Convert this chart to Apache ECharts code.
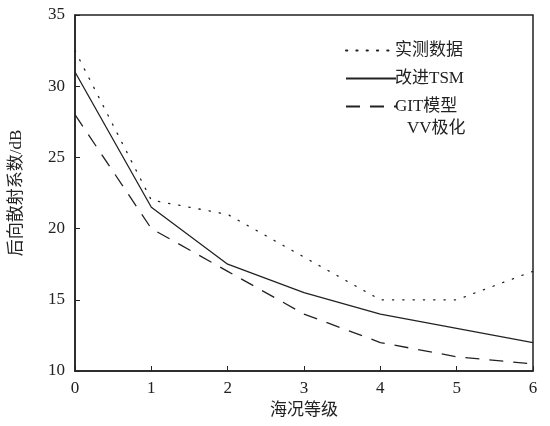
<!DOCTYPE html>
<html><head><meta charset="utf-8">
<script src="https://cdn.jsdelivr.net/npm/echarts@6/dist/echarts.min.js"></script>
<style>html,body{margin:0;padding:0;background:#fff}#c{width:550px;height:426px}</style>
</head><body><div id="c"></div>
<script>
const seaStates = [0, 1, 2, 3, 4, 5, 6];
const measured = [32.5, 22, 21, 18, 15, 15, 17];
const improvedTSM = [31, 21.5, 17.5, 15.5, 14, 13, 12];
const gitModel = [28, 20, 17, 14, 12, 11, 10.5];
const seriesNames = ['实测数据', '改进TSM', 'GIT模型'];
const noteText = 'VV极化';
const xTitle = '海况等级';
const yTitle = '后向散射系数/dB';

const FONT = '"Liberation Serif", "DejaVu Serif", "Noto Sans CJK SC", serif';
const pair = (arr) => seaStates.map((x, i) => [x, arr[i]]);

const chart = echarts.init(document.getElementById('c'));
chart.setOption({
  animation: false,
  backgroundColor: '#fff',
  textStyle: { fontFamily: FONT, color: '#222' },
  grid: { left: 75, right: 17, top: 15, bottom: 55, show: true, borderColor: '#222', borderWidth: 1.5, backgroundColor: 'transparent' },
  legend: {
    orient: 'vertical',
    left: 340, top: 37,
    itemWidth: 50, itemHeight: 16, itemGap: 11,
    itemStyle: { opacity: 0, borderWidth: 0 },
    textStyle: { fontFamily: FONT, fontSize: 17, color: '#222', padding: [0, 0, 0, -6] },
    data: seriesNames.map(n => ({ name: n })),
  },
  graphic: [{
    type: 'text', left: 407, top: 120,
    style: { text: noteText, font: '17px ' + FONT, fill: '#222' }
  }],
  xAxis: {
    type: 'value', min: 0, max: 6, interval: 1,
    name: xTitle, nameLocation: 'middle', nameGap: 31,
    nameTextStyle: { fontSize: 17, color: '#222', fontFamily: FONT },
    axisLine: { onZero: false, lineStyle: { color: '#222', width: 1.5 } },
    axisTick: { inside: true, length: 5, lineStyle: { color: '#222' } },
    axisLabel: { fontSize: 17, color: '#222', margin: 9, fontFamily: FONT },
    splitLine: { show: false }
  },
  yAxis: {
    type: 'value', min: 10, max: 35, interval: 5,
    name: yTitle, nameLocation: 'middle', nameGap: 50, nameRotate: 90,
    nameTextStyle: { fontSize: 17, color: '#222', fontFamily: FONT },
    axisLine: { show: true, onZero: false, lineStyle: { color: '#222', width: 1.5 } },
    axisTick: { show: true, inside: true, length: 5, lineStyle: { color: '#222' } },
    axisLabel: { fontSize: 17, color: '#222', margin: 10, fontFamily: FONT },
    splitLine: { show: false }
  },
  series: [
    { name: seriesNames[0], type: 'line', data: pair(measured), showSymbol: false, symbol: 'none',
      lineStyle: { color: '#222', width: 1.3, type: [1.3, 9], cap: 'round' }, itemStyle: { color: '#222' } },
    { name: seriesNames[1], type: 'line', data: pair(improvedTSM), showSymbol: false, symbol: 'none',
      lineStyle: { color: '#222', width: 1.3, type: 'solid' }, itemStyle: { color: '#222' } },
    { name: seriesNames[2], type: 'line', data: pair(gitModel), showSymbol: false, symbol: 'none',
      lineStyle: { color: '#222', width: 1.3, type: [14, 10] }, itemStyle: { color: '#222' } }
  ]
});
</script></body></html>
